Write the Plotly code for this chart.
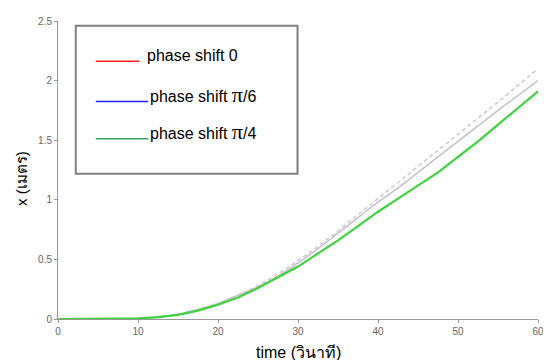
import plotly.graph_objects as go

# time axis samples (s)
t_vals = [0, 5, 10, 12.5, 15, 17.5, 20, 22.5, 25, 27.5, 30, 32.5, 35, 37.5, 40, 42.5, 45, 47.5, 50, 52.5, 55, 57.5, 60]

# phase shift 0 (dashed, faded red)
x_phase0 = [0, 0, 0.005, 0.015, 0.04, 0.08, 0.13, 0.2, 0.28, 0.38, 0.49, 0.61, 0.74, 0.875, 1.01, 1.145, 1.28, 1.415, 1.55, 1.685, 1.82, 1.96, 2.1]
# phase shift pi/6 (solid, faded blue)
x_phase6 = [0, 0, 0.005, 0.015, 0.04, 0.08, 0.13, 0.2, 0.27, 0.36, 0.47, 0.59, 0.72, 0.85, 0.98, 1.1, 1.23, 1.36, 1.49, 1.62, 1.75, 1.875, 2.0]
# phase shift pi/4 (solid green)
x_phase4 = [0, 0, 0.005, 0.015, 0.035, 0.07, 0.12, 0.18, 0.26, 0.35, 0.44, 0.55, 0.66, 0.78, 0.9, 1.01, 1.12, 1.23, 1.36, 1.49, 1.63, 1.77, 1.91]

x_ticks = [0, 10, 20, 30, 40, 50, 60]
y_ticks = [0, 0.5, 1, 1.5, 2, 2.5]
y_tick_text = ["0", "0.5", "1", "1.5", "2", "2.5"]

legend_labels = ["phase shift 0", "phase shift π/6", "phase shift π/4"]
legend_colors = ["#ff2020", "#2020ff", "#3a9a6a"]

fig = go.Figure()
fig.add_trace(go.Scatter(x=t_vals, y=x_phase0, mode="lines", line_shape="spline",
                         line=dict(color="#dcc2cc", width=1.5, dash="4px,3px"), showlegend=False))
fig.add_trace(go.Scatter(x=t_vals, y=x_phase6, mode="lines", line_shape="spline",
                         line=dict(color="#c4c0cc", width=1.5), showlegend=False))
fig.add_trace(go.Scatter(x=t_vals, y=x_phase4, mode="lines",
                         line=dict(color="#3fd23f", width=2.2), showlegend=False))

tick_font = dict(family="Liberation Sans, Arial", size=10, color="#666666")
fig.update_layout(
    width=543, height=352,
    margin=dict(l=50, r=10, t=7, b=41),
    paper_bgcolor="white", plot_bgcolor="white",
    showlegend=False,
    xaxis=dict(range=[0, 60], tickvals=x_ticks, ticks="outside", ticklen=3,
               tickcolor="#999999", showline=True, linecolor="#999999", linewidth=1,
               showgrid=False, zeroline=False, tickfont=tick_font),
    yaxis=dict(range=[0, 2.5], tickvals=y_ticks, ticktext=y_tick_text, ticks="outside",
               ticklen=3, tickcolor="#999999", showline=True, linecolor="#999999",
               linewidth=1, showgrid=False, zeroline=False, tickfont=tick_font),
)

# legend box
fig.add_shape(type="rect", xref="paper", yref="paper", x0=0.037, x1=0.499, y0=0.487, y1=0.984,
              line=dict(color="#808080", width=2), fillcolor="rgba(0,0,0,0)")
leg_y_line = [0.865, 0.730, 0.605]
leg_y_text = [0.885, 0.753, 0.628]
leg_x_end = [0.170, 0.188, 0.188]
for lbl, col, yl, yt, xe in zip(legend_labels, legend_colors, leg_y_line, leg_y_text, leg_x_end):
    fig.add_shape(type="line", xref="paper", yref="paper", x0=0.0787, x1=xe, y0=yl, y1=yl,
                  line=dict(color=col, width=1.5))
    if "π" in lbl:
        base, rest = lbl.split("π")
        txt = base + '<span style="font-family:Liberation Serif, Times New Roman;font-size:22px">π</span>' + rest
    else:
        txt = lbl
    fig.add_annotation(xref="paper", yref="paper", x=xe + 0.012 if "π" not in lbl else xe, y=yt,
                       xanchor="left", yanchor="middle", showarrow=False, text=txt,
                       font=dict(family="Liberation Sans, Arial", size=16, color="black"))

# axis titles
fig.add_annotation(xref="paper", yref="paper", x=0.5, y=0, yshift=-33, xanchor="center",
                   yanchor="middle", showarrow=False, text="time (วินาที)",
                   font=dict(family="Liberation Sans, Noto Sans, Arial", size=16, color="black"))
fig.add_annotation(xref="paper", yref="paper", x=0, xshift=-36, y=0.47, xanchor="center",
                   yanchor="middle", showarrow=False, text="x (เมตร)", textangle=-90,
                   font=dict(family="Liberation Sans, Noto Sans, Arial", size=15, color="black"))

fig.write_html("out.html")
